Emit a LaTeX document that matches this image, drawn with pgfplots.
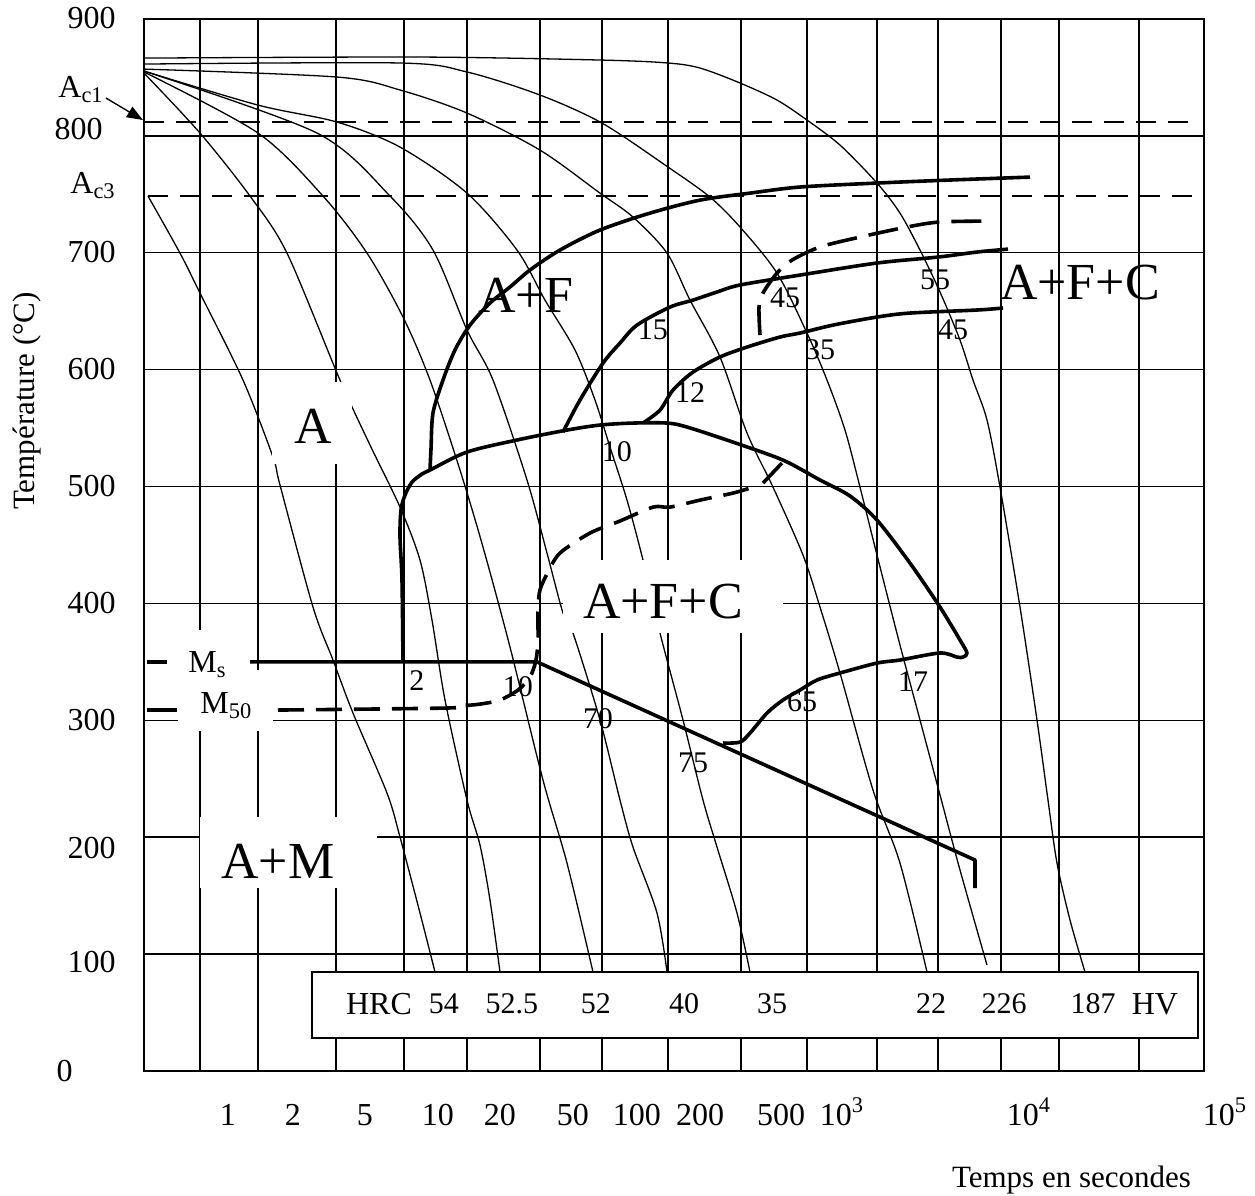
\documentclass[border=0pt]{standalone}
\usepackage{fontspec}
\setmainfont{Liberation Serif}
\usepackage{pgfplots}
\pgfplotsset{compat=1.18}
\usetikzlibrary{arrows.meta}
\newcommand{\fs}[1]{\fontsize{#1}{#1}\selectfont}

\begin{document}
\begin{tikzpicture}
\begin{axis}[
  x=0.5pt, y=0.5845pt,
  xmin=0, xmax=1060, ymin=0, ymax=900,
  clip=false,
  axis line style={black, line width=0.8pt},
  major tick length=0pt,
  xtick={84,149,221,294,356,429,493,556,637,698,885},
  xticklabels={1,2,5,10,20,50,100,200,500,10\textsuperscript{3},10\textsuperscript{4}},
  xticklabel style={anchor=base, yshift=-27pt, inner sep=0pt, font=\fs{16}},
  extra x ticks={56,114,192,260,323,396,458,524,597,663,733,794,857,915,995},
  extra x tick style={grid=major, xticklabel={}},
  ytick={0,100,200,300,400,500,600,700,800,900},
  yticklabels={0\hspace*{21.5pt},\raisebox{-4pt}{100},\raisebox{-5.5pt}{200},300,400,500,600,700,\raisebox{3pt}{800}\hspace*{6.5pt},900},
  yticklabel style={anchor=base east, xshift=-14pt, yshift=-5pt, inner sep=0pt, font=\fs{16}},
  ymajorgrids=true,
  major grid style={black, line width=0.75pt},
  every axis plot/.append style={black, line width=0.65pt, line join=round},
]
\coordinate (bbSW) at (axis cs:-144,-106.1);
\coordinate (bbNE) at (axis cs:1111,916.2);

% Ac1 / Ac3
\addplot[line width=0.75pt, dash pattern=on 10pt off 6pt] coordinates {(0,811.8) (1051,811.8)};
\addplot[line width=0.75pt, dash pattern=on 10pt off 6pt] coordinates {(4,748.5) (1051,748.5)};

% cooling curves
\addplot[smooth] coordinates {(4,748.5) (36,699.7) (56,665.5) (99,591.1) (129,525.2) (136,501.3) (169,396.9) (189,351.6) (209,306.2) (243,237.8) (256,200.2) (276,135.2) (291,84.7)};
\addplot[smooth] coordinates {(0,853.7) (56,802.4) (106,748.5) (143,699.7) (196,591.1) (226,535.5) (256,482.4) (276,437.1) (288,385.8) (301,317.4) (323,231.8) (336,193.3) (346,146.3) (356,84.7)};
\addplot[smooth] coordinates {(0,854.6) (114,802.4) (179,748.5) (223,699.7) (259,645.0) (286,591.1) (316,514.1) (339,448.2) (366,362.7) (399,248.9) (423,177.9) (449,84.7)};
\addplot[smooth] coordinates {(0,855.4) (173,802.4) (246,748.5) (289,702.3) (323,633.9) (349,591.1) (383,505.6) (403,443.1) (419,391.8) (429,374.7) (456,300.3) (476,231.8) (489,191.6) (513,135.2) (523,84.7)};
\addplot[smooth] coordinates {(0,855.4) (114,826.3) (193,811.8) (256,790.4) (323,751.0) (373,702.3) (401,659.5) (431,616.8) (451,574.0) (466,533.8) (483,488.4) (499,437.1) (516,374.7) (539,300.3) (559,231.8) (573,191.6) (593,135.2) (606,84.7)};
\addplot[smooth] coordinates {(0,857.1) (193,850.3) (256,839.2) (323,819.5) (396,787.8) (456,751.0) (489,730.5) (523,699.7) (546,659.5) (576,610.8) (603,545.8) (629,499.5) (659,441.4) (676,396.9) (696,340.5) (729,240.4) (756,177.9) (783,84.7)};
\addplot[smooth] coordinates {(0,861.4) (256,862.3) (323,854.6) (396,834.9) (458,810.9) (524,773.3) (566,747.6) (596,722.0) (633,682.6) (663,631.3) (683,591.1) (701,548.3) (716,499.5) (733,441.4) (756,364.4) (776,300.3) (796,236.2) (816,172.0) (843,90.7)};
\addplot[smooth] coordinates {(0,866.5) (276,867.4) (458,864.8) (524,862.3) (556,858.0) (596,845.2) (633,830.6) (663,813.5) (696,792.1) (733,759.6) (756,733.9) (776,702.3) (796,666.4) (816,625.3) (829,591.1) (843,556.9) (856,499.5) (876,396.9) (893,300.3) (904,231.8) (913,177.9) (926,129.2) (941,84.7)};

% transformation lines (thick)
\addplot[line width=1.8pt, smooth] coordinates {(286,514.1) (287,532.0) (289,562.9) (299,591.1) (311,616.8) (326,638.1) (346,657.0) (366,670.7) (386,685.2) (416,702.3) (456,719.4) (506,733.9) (556,745.0) (606,751.0) (656,756.2) (733,759.6) (806,762.2) (886,764.7)};
\addplot[line width=1.8pt, smooth] coordinates {(259,349.9) (258,420.0) (256,456.8) (257,479.9) (261,492.7) (268,503.8) (278,510.7) (286,514.1) (323,529.5) (373,539.8) (423,548.3) (456,552.6) (489,554.3) (523,554.3) (543,550.9) (589,538.0) (639,522.6) (676,505.6) (706,491.9) (733,471.3) (766,434.5) (796,396.9) (816,368.7) (823,357.6) (819,354.1) (813,354.1) (796,357.6) (756,351.6) (733,349.0) (696,340.5) (673,334.5) (656,325.9) (639,317.4) (623,306.2) (606,289.1) (596,281.4) (579,280.6)};
\addplot[line width=1.8pt, smooth] coordinates {(419,546.6) (436,574.0) (459,605.6) (476,622.7) (493,638.1) (526,653.5) (549,659.5) (573,666.4) (596,672.4) (656,680.9) (733,691.2) (794,696.3) (833,700.6) (864,703.1)};
\addplot[line width=1.8pt, smooth] coordinates {(499,554.3) (516,565.4) (529,582.5) (549,597.9) (576,610.8) (603,619.3) (636,627.9) (656,631.3) (689,638.1) (733,645.0) (766,648.4) (833,651.0) (859,652.7)};
\addplot[line width=1.8pt, smooth, dash pattern=on 15pt off 6pt] coordinates {(616,629.6) (615,653.5) (619,665.5) (633,682.6) (648,693.7) (676,704.9) (716,713.4) (763,722.0) (796,726.3) (849,727.1)};
% Ms and bainite line
\addplot[line width=1.8pt] coordinates {(106,350) (393,350) (831,180.5) (831,156.5)};
\addplot[line width=1.8pt] coordinates {(3,350) (23,350)};
\addplot[line width=1.8pt] coordinates {(3,308.8) (33,308.8)};
% M50
\addplot[line width=1.8pt, smooth, dash pattern=on 13pt off 6pt] coordinates {(134,308.8) (301,310.5) (316,312.2) (336,313.9) (356,317.4) (374,325.9) (386,337.0) (392,351.6) (394,368.7) (394,394.3) (396,411.5) (404,426.8) (416,443.1) (446,460.2) (476,470.5) (509,482.4) (526,482.4) (556,488.4) (589,494.4) (609,499.5)};
\addplot[line width=1.8pt] coordinates {(619,503.0) (638,520.1)};

% region labels
\fill[white] (128,519.6) rectangle (208,589.6);
\node[font=\fs{26}, inner sep=0pt] at (169,551.8) {A};
\node[font=\fs{26}, inner sep=0pt] at (382,663.8) {A+F};
\node[font=\fs{26}, inner sep=0pt] at (936,674.5) {A+F+C};
\fill[white] (419,374.7) rectangle (639,437.1);
\node[font=\fs{26}, inner sep=0pt] at (519,401.4) {A+F+C};
\fill[white] (56,156.5) rectangle (233,217.3);
\node[font=\fs{26}, inner sep=0pt] at (134,179.6) {A+M};

% Ms / M50 labels
\fill[white] (26,343) rectangle (106,377.2);
\fill[white] (34,291) rectangle (129,343);
\node[anchor=base west, inner sep=0pt, font=\fs{16}] at (44,341.3) {M\textsubscript{s}};
\node[anchor=base west, inner sep=0pt, font=\fs{16}] at (56,306.2) {M\textsubscript{50}};

% hardness box
\draw[line width=0.75pt, fill=white] (168,28.2) rectangle (1054,84.7);
\node[font=\fs{16}] at (235,57.5) {HRC};
\node[font=\fs{15}] at (300,57.5) {54};
\node[font=\fs{15}] at (368,57.5) {52.5};
\node[font=\fs{15}] at (452,57.5) {52};
\node[font=\fs{15}] at (540,57.5) {40};
\node[font=\fs{15}] at (628,57.5) {35};
\node[font=\fs{15}] at (787,57.5) {22};
\node[font=\fs{15}] at (860,57.5) {226};
\node[font=\fs{15}] at (949,57.5) {187};
\node[font=\fs{16}] at (1011,57.5) {HV};

% phase percentages
\node[font=\fs{15}, inner sep=0pt] at (273,333.6) {2};
\node[font=\fs{15}, inner sep=0pt] at (374,328.5) {10};
\node[font=\fs{15}, inner sep=0pt] at (454,301.5) {70};
\node[font=\fs{15}, inner sep=0pt] at (549,263.5) {75};
\node[font=\fs{15}, inner sep=0pt] at (658,315.7) {65};
\node[font=\fs{15}, inner sep=0pt] at (769,332.8) {17};
\node[font=\fs{15}, inner sep=0pt] at (473,529.5) {10};
\node[font=\fs{15}, inner sep=0pt] at (546,580.0) {12};
\node[font=\fs{15}, inner sep=0pt] at (509,633.9) {15};
\node[font=\fs{15}, inner sep=0pt] at (641,661.3) {45};
\node[font=\fs{15}, inner sep=0pt] at (676,616.8) {35};
\node[font=\fs{15}, inner sep=0pt] at (791,676.6) {55};
\node[font=\fs{15}, inner sep=0pt] at (809,633.9) {45};

% Ac labels
\node[anchor=base west, inner sep=0pt, font=\fs{16}] at (-86,833.2) {A\textsubscript{c1}};
\node[anchor=base west, inner sep=0pt, font=\fs{16}] at (-74,751.1) {A\textsubscript{c3}};
\draw[line width=0.7pt, -{Triangle[length=8pt,width=6pt]}] (-38,832.3) -- (-1,813.5);

% axis titles
\node[rotate=90, font=\fs{15.5}] at (-117,573.1) {Température (°C)};
\node[anchor=base, font=\fs{15.5}] at (927.5,-99.2) {Temps en secondes};
\node[anchor=base, inner sep=0pt, yshift=-27pt, font=\fs{16}] at (1081,0) {10\textsuperscript{5}};
\end{axis}
\pgfresetboundingbox
\path[use as bounding box] (bbSW) rectangle (bbNE);
\end{tikzpicture}
\end{document}
